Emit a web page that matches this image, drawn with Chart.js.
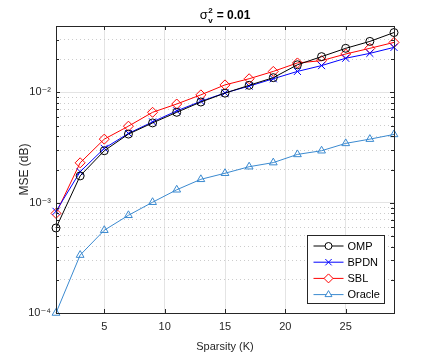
<!DOCTYPE html>
<html><head><meta charset="utf-8">
<script src="https://cdn.jsdelivr.net/npm/chart.js@4/dist/chart.umd.min.js"></script>
<style>html,body{margin:0;padding:0;background:#fff}</style>
</head><body>
<canvas id="c" width="436" height="354"></canvas>
<script>
const sparsity = [1, 3, 5, 7, 9, 11, 13, 15, 17, 19, 21, 23, 25, 27, 29];
const ompMSE    = [5.9e-4, 1.75e-3, 2.96e-3, 4.19e-3, 5.29e-3, 6.6e-3, 8.18e-3, 9.85e-3, 1.16e-2, 1.36e-2, 1.78e-2, 2.11e-2, 2.51e-2, 2.9e-2, 3.49e-2];
const bpdnMSE   = [8.35e-4, 1.91e-3, 3.11e-3, 4.25e-3, 5.4e-3, 6.8e-3, 8.3e-3, 9.9e-3, 1.14e-2, 1.33e-2, 1.55e-2, 1.75e-2, 2.04e-2, 2.26e-2, 2.56e-2];
const sblMSE    = [8.0e-4, 2.3e-3, 3.77e-3, 4.94e-3, 6.6e-3, 7.85e-3, 9.5e-3, 1.17e-2, 1.33e-2, 1.55e-2, 1.85e-2, 1.94e-2, 2.23e-2, 2.51e-2, 2.84e-2];
const oracleMSE = [1.0e-4, 3.35e-4, 5.63e-4, 7.69e-4, 1.01e-3, 1.31e-3, 1.63e-3, 1.85e-3, 2.12e-3, 2.31e-3, 2.74e-3, 2.96e-3, 3.45e-3, 3.77e-3, 4.16e-3];
const xTickValues = [5, 10, 15, 20, 25];
const yMin = 1e-4, yMax = 0.04;
const seriesNames = ['OMP', 'BPDN', 'SBL', 'Oracle'];

const FONT = "'Liberation Sans', Arial, 'DejaVu Sans', sans-serif";
const TXT = '#262626';
const AX = '#262626';
const SUP = {'-':'\u207B','0':'\u2070','1':'\u00B9','2':'\u00B2','3':'\u00B3','4':'\u2074','5':'\u2075','6':'\u2076','7':'\u2077','8':'\u2078','9':'\u2079'};
const isDecade = v => Math.abs(Math.log10(v) - Math.round(Math.log10(v))) < 1e-9;

function yTickValues() {
  const out = [];
  for (let e = -4; e <= -2; e++) for (let m = 1; m <= 9; m++) {
    const v = +(m * Math.pow(10, e)).toPrecision(6);
    if (v >= yMin && v <= yMax) out.push(v);
  }
  return out;
}

const mk = (label, data, color, style, r) => ({
  label, data: sparsity.map((x, i) => ({x, y: data[i]})),
  borderColor: color, backgroundColor: color, borderWidth: 1,
  pointStyle: style, pointRadius: r, pointHoverRadius: r, pointBorderWidth: 1,
  pointBorderColor: color, pointBackgroundColor: 'rgba(0,0,0,0)', tension: 0, clip: false
});

const boxPlugin = {
  id: 'box',
  afterDatasetsDraw(chart) {
    const {ctx, chartArea: a, scales} = chart;
    ctx.save();
    ctx.strokeStyle = AX; ctx.lineWidth = 1;
    ctx.beginPath();
    scales.y.ticks.forEach(t => {
      const y = Math.round(scales.y.getPixelForValue(t.value)) + 0.5;
      const L = isDecade(t.value) ? 4 : 3;
      ctx.moveTo(a.left, y); ctx.lineTo(a.left + L, y);
      ctx.moveTo(a.right, y); ctx.lineTo(a.right - L, y);
    });
    scales.x.ticks.forEach(t => {
      const x = Math.round(scales.x.getPixelForValue(t.value)) + 0.5;
      ctx.moveTo(x, a.bottom); ctx.lineTo(x, a.bottom - 4);
      ctx.moveTo(x, a.top); ctx.lineTo(x, a.top + 4);
    });
    ctx.stroke();
    ctx.strokeRect(Math.round(a.left) + 0.5, Math.round(a.top) + 0.5, Math.round(a.right - a.left), Math.round(a.bottom - a.top));
    ctx.restore();
  },
  afterDraw(chart) {
    const {ctx, chartArea: a} = chart;
    ctx.save();
    const w = 77, h = 68;
    const bx = Math.round(a.right - 10 - w) + 0.5, by = Math.round(a.bottom - 10 - h) + 0.5;
    ctx.fillStyle = '#fff'; ctx.fillRect(bx, by, w, h);
    ctx.strokeStyle = AX; ctx.lineWidth = 1; ctx.strokeRect(bx, by, w, h);
    ctx.font = '11px ' + FONT; ctx.textBaseline = 'middle'; ctx.textAlign = 'left';
    chart.data.datasets.forEach((ds, i) => {
      const y = by + 10.5 + i * 16.2;
      ctx.strokeStyle = ds.borderColor; ctx.lineWidth = 1;
      ctx.beginPath(); ctx.moveTo(bx + 6, y); ctx.lineTo(bx + 36, y); ctx.stroke();
      ctx.fillStyle = '#ffffff';
      Chart.helpers.drawPoint(ctx, {pointStyle: ds.pointStyle, radius: ds.pointRadius - 0.5, borderWidth: 1, rotation: 0}, bx + 21, y);
      ctx.fillStyle = '#000'; ctx.fillText(seriesNames[i], bx + 40, y + 0.5);
    });
    const cx = (a.left + a.right) / 2;
    ctx.fillStyle = '#000'; ctx.textBaseline = 'alphabetic';
    ctx.font = 'bold 12px ' + FONT;
    const wS = ctx.measureText('\u03C3').width;
    const rest = ' = 0.01';
    const wR = ctx.measureText(rest).width;
    ctx.font = 'bold 8px ' + FONT;
    const wSub = Math.max(ctx.measureText('2').width, ctx.measureText('v').width);
    let x = cx - (wS + wSub + 1 + wR) / 2;
    ctx.font = '13px ' + FONT;
    ctx.fillText('\u03C3', x, 19);
    x += wS + 0.5;
    ctx.font = 'bold 8px ' + FONT;
    ctx.fillText('2', x, 13);
    ctx.fillText('v', x, 23);
    x += wSub + 0.5;
    ctx.font = 'bold 12px ' + FONT;
    ctx.fillText(rest, x, 19);
    ctx.restore();
  }
};

new Chart(document.getElementById('c'), {
  type: 'line',
  data: { datasets: [
    mk('OMP', ompMSE, '#000000', 'circle', 4),
    mk('BPDN', bpdnMSE, '#0000ff', 'crossRot', 5),
    mk('SBL', sblMSE, '#ff0000', 'rectRot', 5),
    mk('Oracle', oracleMSE, '#3b8ad0', 'triangle', 4.5)
  ]},
  options: {
    responsive: false, animation: false, devicePixelRatio: 1,
    layout: { padding: { top: 26, right: 42, left: 0, bottom: 0 } },
    plugins: { legend: { display: false }, title: { display: false }, tooltip: { enabled: false } },
    scales: {
      x: {
        type: 'linear', min: 1, max: 29,
        afterBuildTicks: s => { s.ticks = xTickValues.map(v => ({value: v})); },
        afterFit: s => { s.height = 41; },
        ticks: { font: { family: FONT, size: 11 }, color: TXT, padding: 7, maxRotation: 0, autoSkip: false },
        grid: { color: '#e4e4e4', drawTicks: false, lineWidth: 1 },
        border: { display: false },
        title: { display: true, text: 'Sparsity (K)', font: { family: FONT, size: 11 }, color: TXT, padding: { top: 4, bottom: 0 } }
      },
      y: {
        type: 'logarithmic', min: yMin, max: yMax,
        afterBuildTicks: s => { s.ticks = yTickValues().map(v => ({value: v})); },
        afterFit: s => { s.width = 56; },
        ticks: {
          font: { family: FONT, size: 11 }, color: TXT, padding: 5, autoSkip: false,
          callback: v => isDecade(v) ? '10' + String(Math.round(Math.log10(v))).split('').map(c => SUP[c]).join('') : ''
        },
        grid: {
          drawTicks: false, lineWidth: 1,
          color: c => (c.tick && isDecade(c.tick.value)) ? '#e4e4e4' : '#cccccc'
        },
        border: { display: false, dash: c => (c.tick && !isDecade(c.tick.value)) ? [1, 3] : [] },
        title: { display: true, text: 'MSE (dB)', font: { family: FONT, size: 12 }, color: TXT, padding: { top: 17, bottom: 0 } }
      }
    }
  },
  plugins: [boxPlugin]
});
</script>
</body></html>
